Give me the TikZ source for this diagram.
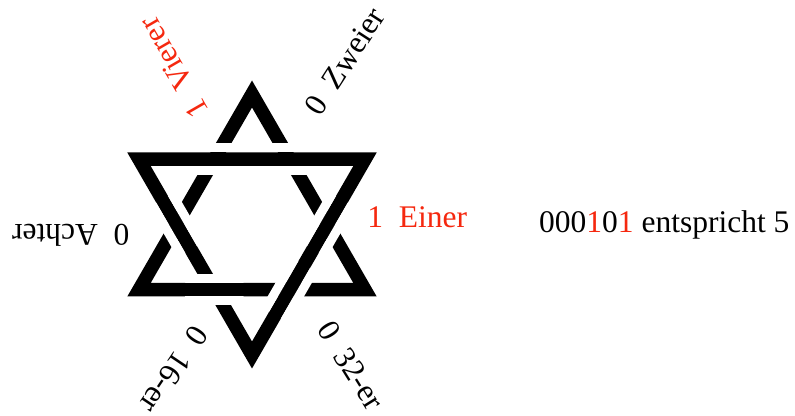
\documentclass[tikz,border=0pt]{standalone}
\usepackage{fontspec}
\setmainfont{Liberation Serif}
\usepackage{xcolor}
\usetikzlibrary{calc}
\definecolor{bitred}{RGB}{245,40,15}

\tikzset{
  band/.style={line width=13.5pt,line join=miter},
  gap/.style={white,line width=9pt},
  lbl/.style={anchor=mid west,inner sep=0pt},
}

\begin{document}
\begin{tikzpicture}[x=1pt,y=1pt,font=\fontsize{31.5}{38}\selectfont]
\useasboundingbox (0,0) rectangle (795,415);
\coordinate (c) at (252,190.5);
% corners of the two triangles (middle of the bands)
\foreach \a/\n in {90/u1,210/u2,330/u3,270/d1,30/d2,150/d3}
  \coordinate (\n) at ([shift={(\a:130.5)}]c);
\draw[band] (u1) -- (u2) -- (u3) -- cycle;
\draw[band] (d1) -- (d2) -- (d3) -- cycle;
% cut the lower band on both sides of the upper one
\foreach \a/\p/\q in {60/d3/d2,120/d3/d2,180/d3/d1,240/u2/u3,300/d2/d1,0/d2/d1}{
  \begin{scope}
    \clip ([shift={(\a:75.3)}]c) circle (30pt);
    \draw[gap] ($(\p)!11.25pt!90:(\q)$) -- ($(\q)!11.25pt!-90:(\p)$);
    \draw[gap] ($(\p)!11.25pt!-90:(\q)$) -- ($(\q)!11.25pt!90:(\p)$);
  \end{scope}
}
\node[lbl,text=bitred] (einer) at ([shift={(115.2,-0.7)}]c) {1~~Einer};
\node[lbl,rotate=57] (zweier) at ([shift={(66.5,108)}]c) {0~~Zweier};
\node[lbl,rotate=120] (vierer) at ([shift={(-44,113)}]c) {\textcolor{bitred}{1~~Vierer}};
\node[lbl,rotate=180] (achter) at ([shift={(-122.5,-2)}]c) {0~~Achter};
\node[lbl,rotate=236] (sechzehner) at ([shift={(-57,-100)}]c) {0~~16-er};
\node[lbl,rotate=302] (zweiunddreissiger) at ([shift={(66.1,-103.5)}]c) {0~~32-er};
\node[anchor=base west,inner sep=0pt] (wert) at (539,182)
  {000\textcolor{bitred}{1}0\textcolor{bitred}{1} entspricht 5};
\end{tikzpicture}
\end{document}
